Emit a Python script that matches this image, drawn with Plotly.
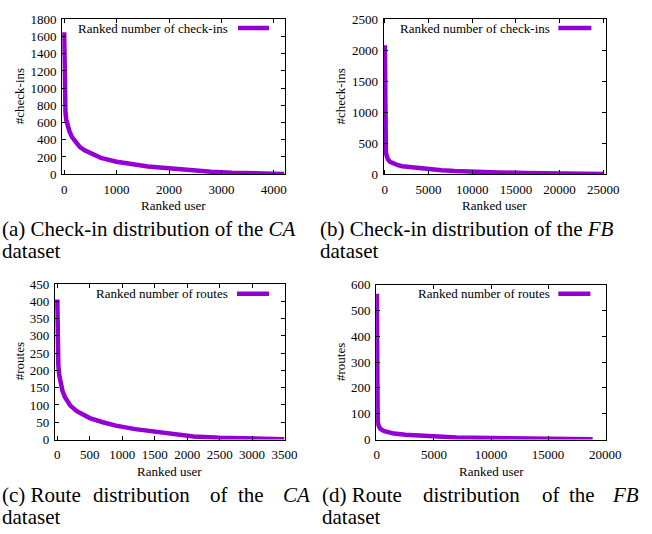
import plotly.graph_objects as go

W, H = 652, 534

# ---- data (rank, value) ----
ca_checkin_rank = [0, 3, 8, 15, 25, 40, 70, 100, 150, 200, 300, 400, 500, 700, 1000, 1300, 1600, 2000, 2400, 2800, 3200, 3600, 4000, 4200]
ca_checkin_val = [1650, 1200, 950, 820, 720, 630, 560, 500, 430, 385, 315, 275, 245, 190, 145, 115, 90, 68, 45, 28, 16, 8, 4, 2]

fb_checkin_rank = [0, 20, 60, 120, 200, 350, 600, 1000, 1500, 2000, 3000, 4500, 6500, 8000, 10000, 13000, 16000, 19000, 22000, 24000, 25000]
fb_checkin_val = [2080, 900, 500, 360, 300, 240, 200, 170, 145, 128, 110, 85, 65, 50, 35, 28, 20, 12, 7, 4, 2]

ca_route_rank = [0, 5, 15, 30, 50, 80, 120, 200, 300, 400, 500, 700, 900, 1200, 1500, 1800, 2100, 2500, 3000, 3500]
ca_route_val = [405, 260, 215, 185, 160, 140, 122, 98, 82, 72, 62, 50, 40, 30, 22, 15, 9, 5, 2, 1]

fb_route_rank = [0, 10, 30, 80, 150, 300, 600, 1000, 1500, 2500, 3500, 5000, 7000, 10000, 13000, 15000, 17000, 18900]
fb_route_val = [565, 200, 100, 70, 55, 42, 33, 27, 23, 18, 15, 11, 8, 6, 4, 2, 1, 1]

legend_checkins = "Ranked number of check-ins"
legend_routes = "Ranked number of routes"
x_title = "Ranked user"
y_titles = ["#check-ins", "#check-ins", "#routes", "#routes"]

COLOR = "#9400D3"
SERIF = "Liberation Serif"


def px_x(p):
    return p / W


def px_y(p):
    return 1 - p / H


panels = [
    dict(x=ca_checkin_rank, y=ca_checkin_val, xd=(61, 290), yd=(12.7, 172), xr=[-37, 4204], yr=[0, 1800],
         dx=1000, dy=200, leg=legend_checkins, legtext_end=234, legline=(242, 274), legy=21.7,
         ytitle_x=17, xtitle_y=204),
    dict(x=fb_checkin_rank, y=fb_checkin_val, xd=(392, 621), yd=(12.7, 172), xr=[-144, 25300], yr=[0, 2500],
         dx=5000, dy=500, leg=legend_checkins, legtext_end=565, legline=(572, 606), legy=21.7,
         ytitle_x=348, xtitle_y=204),
    dict(x=ca_route_rank, y=ca_route_val, xd=(53.3, 290), yd=(285, 445), xr=[-40, 3500], yr=[0, 450],
         dx=500, dy=50, leg=legend_routes, legtext_end=234, legline=(241, 274), legy=295,
         ytitle_x=17, xtitle_y=478),
    dict(x=fb_route_rank, y=fb_route_val, xd=(384.3, 621), yd=(285.7, 445), xr=[-60, 20060], yr=[0, 600],
         dx=5000, dy=100, leg=legend_routes, legtext_end=565, legline=(572, 605), legy=295,
         ytitle_x=347, xtitle_y=478),
]

fig = go.Figure()
annotations = []
shapes = []
layout = {}

for i, p in enumerate(panels):
    n = "" if i == 0 else str(i + 1)
    xa, ya = "xaxis" + n, "yaxis" + n
    fig.add_trace(go.Scatter(x=p["x"], y=p["y"], mode="lines", xaxis="x" + n, yaxis="y" + n,
                             line=dict(color=COLOR, width=4.5), showlegend=False))
    common = dict(showgrid=False, zeroline=False, showline=True, linecolor="black", linewidth=1,
                  mirror="allticks", ticks="inside", ticklen=4, tickcolor="black", tickwidth=1,
                  tickformat="d", tickfont=dict(family=SERIF, size=13, color="black"))
    layout[xa] = dict(domain=[px_x(p["xd"][0]), px_x(p["xd"][1])], range=p["xr"], dtick=p["dx"], tick0=0,
                      anchor="y" + n, ticklabelstandoff=3, **common)
    layout[ya] = dict(domain=[px_y(p["yd"][1]), px_y(p["yd"][0])], range=p["yr"], dtick=p["dy"], tick0=0,
                      anchor="x" + n, ticklabelstandoff=2, **common)
    # legend (text then line sample)
    annotations.append(dict(x=px_x(p["legtext_end"]), y=px_y(p["legy"]), xref="paper", yref="paper",
                            text=p["leg"], showarrow=False, xanchor="right", yanchor="middle",
                            font=dict(family=SERIF, size=13, color="black")))
    shapes.append(dict(type="line", xref="paper", yref="paper",
                       x0=px_x(p["legline"][0]), x1=px_x(p["legline"][1]),
                       y0=px_y(p["legy"]), y1=px_y(p["legy"]), line=dict(color=COLOR, width=4.5)))
    # axis titles
    annotations.append(dict(x=px_x(p["ytitle_x"]), y=px_y((p["yd"][0] + p["yd"][1]) / 2), xref="paper", yref="paper",
                            text=y_titles[i], textangle=-90, showarrow=False, xanchor="center", yanchor="middle",
                            font=dict(family=SERIF, size=13, color="black")))
    annotations.append(dict(x=px_x((p["xd"][0] + p["xd"][1]) / 2), y=px_y(p["xtitle_y"]), xref="paper", yref="paper",
                            text=x_title, showarrow=False, xanchor="center", yanchor="middle",
                            font=dict(family=SERIF, size=13, color="black")))

# captions
CAP = dict(family=SERIF, size=21, color="black")


def cap(text, xpx, ypx):
    annotations.append(dict(x=px_x(xpx), y=px_y(ypx), xref="paper", yref="paper", text=text, showarrow=False,
                            xanchor="left", yanchor="middle", font=CAP, borderpad=0))


cap("(a) Check-in distribution of the <i>CA</i>", -2, 228)
cap("dataset", -2, 251)
cap("(b) Check-in distribution of the <i>FB</i>", 325, 228)
cap("dataset", 325, 251)
for w, xp in [("(c) Route", -2), ("distribution", 92), ("of", 212), ("the", 241), ("<i>CA</i>", 287)]:
    cap(w, xp, 502)
cap("dataset", -2, 525)
for w, xp in [("(d) Route", 328), ("distribution", 432), ("of", 554), ("the", 582), ("<i>FB</i>", 626)]:
    cap(w, xp, 502)
cap("dataset", 328, 525)

fig.update_layout(width=W, height=H, margin=dict(l=0, r=0, t=0, b=0), paper_bgcolor="white",
                  plot_bgcolor="white", annotations=annotations, shapes=shapes, showlegend=False, **layout)

fig.write_html("out.html", config={"displayModeBar": False},
               post_script="document.body.style.margin='0';document.body.style.overflow='hidden';")
